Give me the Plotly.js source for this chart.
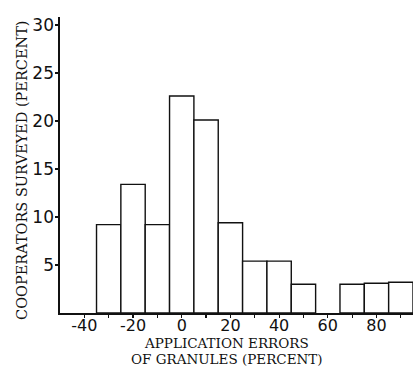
<!DOCTYPE html>
<html>
<head>
<meta charset="utf-8">
<script src="https://cdn.plot.ly/plotly-3.0.1.min.js"></script>
<style>html,body{margin:0;padding:0;background:#fff;}#chart{width:415px;height:367px;}</style>
</head>
<body>
<div id="chart"></div>
<script>
// Bin centers (application error, percent), bin width 10
const binCenters = [-30, -20, -10, 0, 10, 20, 30, 40, 50, 70, 80, 90];
const cooperatorsPct = [9.2, 13.4, 9.2, 22.6, 20.1, 9.4, 5.4, 5.4, 3.0, 3.0, 3.1, 3.2];
const xTickVals = [-40, -30, -20, -10, 0, 10, 20, 30, 40, 50, 60, 70, 80, 90];
const xTickText = ['-40', '', '-20', '', '0', '', '20', '', '40', '', '60', '', '80', ''];
const yTickVals = [5, 10, 15, 20, 25, 30];
const yTickText = ['5', '10', '15', '20', '25', '30'];
const xTitleLines = ['APPLICATION ERRORS', 'OF GRANULES (PERCENT)'];
const yTitle = 'COOPERATORS SURVEYED (PERCENT)';

const trace = {
  type: 'bar',
  x: binCenters,
  y: cooperatorsPct,
  width: 10,
  marker: {color: '#ffffff', line: {color: '#111111', width: 1.4}},
  hoverinfo: 'x+y'
};

const xTitleFont = {size: 13.5, family: 'DejaVu Serif, serif', color: '#111'};

const layout = {
  width: 415, height: 367,
  margin: {l: 60, r: 2, t: 17, b: 54, pad: 0},
  paper_bgcolor: '#ffffff', plot_bgcolor: '#ffffff',
  showlegend: false,
  font: {family: 'DejaVu Sans, sans-serif', color: '#111111'},
  xaxis: {
    range: [-50, 95],
    tickmode: 'array', tickvals: xTickVals, ticktext: xTickText,
    ticks: 'outside', ticklen: 3, tickwidth: 1.2, tickcolor: '#111',
    ticklabelstandoff: -6,
    showline: true, linecolor: '#111', linewidth: 1.6,
    showgrid: false, zeroline: false,
    tickfont: {size: 16, family: 'DejaVu Sans, sans-serif', color: '#111'}
  },
  yaxis: {
    range: [0, 30.83],
    tickmode: 'array', tickvals: yTickVals, ticktext: yTickText,
    ticks: 'outside', ticklen: 3, tickwidth: 1.2, tickcolor: '#111',
    ticklabelstandoff: -2,
    showline: true, linecolor: '#111', linewidth: 1.6,
    showgrid: false, zeroline: false,
    tickfont: {size: 17, family: 'DejaVu Sans, sans-serif', color: '#111'}
  },
  annotations: [
    {text: xTitleLines[0], xref: 'paper', yref: 'paper', x: 0.473, y: -0.101,
     xanchor: 'center', yanchor: 'middle', showarrow: false, borderpad: 0, font: xTitleFont},
    {text: xTitleLines[1], xref: 'paper', yref: 'paper', x: 0.473, y: -0.157,
     xanchor: 'center', yanchor: 'middle', showarrow: false, borderpad: 0, font: xTitleFont},
    {text: yTitle, xref: 'paper', yref: 'paper', x: -0.108, y: 0.483,
     xanchor: 'center', yanchor: 'middle', textangle: -90, showarrow: false,
     font: {size: 14.5, family: 'DejaVu Serif, serif', color: '#111'}}
  ]
};

Plotly.newPlot('chart', [trace], layout, {staticPlot: true, displayModeBar: false});
</script>
</body>
</html>
